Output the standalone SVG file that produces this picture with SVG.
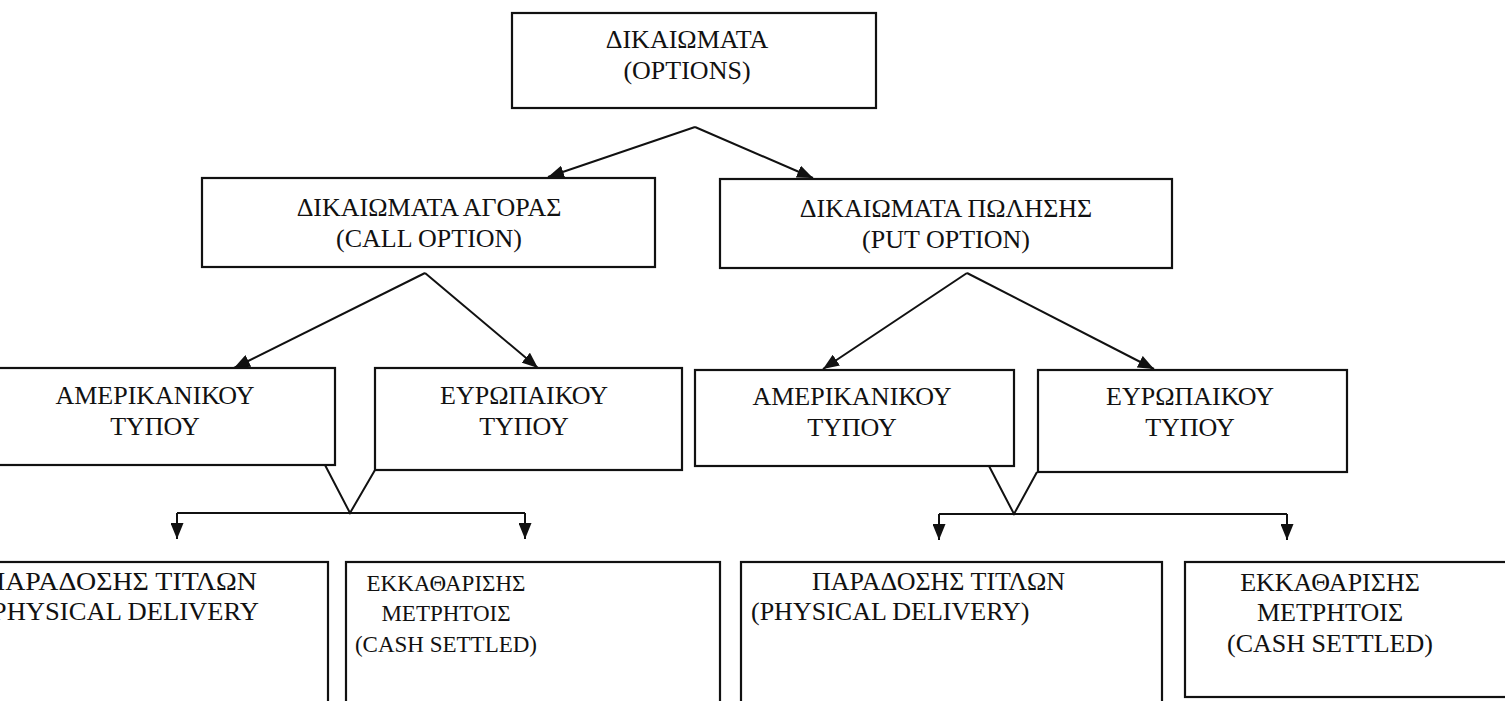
<svg xmlns="http://www.w3.org/2000/svg" width="1505" height="701" viewBox="0 0 1505 701">
<style>
.box{fill:#fff;stroke:#111;stroke-width:2.2}
.t{font-family:"Liberation Serif","Times New Roman",serif;font-size:26px;fill:#111;text-anchor:middle}
.s{text-anchor:start}
.m{font-size:23px}
.c{fill:none;stroke:#111;stroke-width:2}
</style>
<defs>
<marker id="ah" viewBox="0 0 16 13" refX="16" refY="6.5" markerWidth="16" markerHeight="13" markerUnits="userSpaceOnUse" orient="auto">
<path d="M0,0 L16,6.5 L0,13 Z" fill="#111"/>
</marker>
</defs>
<rect width="1505" height="701" fill="#fff"/>
<g id="connectors">
<path class="c" d="M695,127 L548,177" marker-end="url(#ah)"/>
<path class="c" d="M695,127 L813,178" marker-end="url(#ah)"/>
<path class="c" d="M425,273 L234,368" marker-end="url(#ah)"/>
<path class="c" d="M425,273 L538,368" marker-end="url(#ah)"/>
<path class="c" d="M967,273 L823,369" marker-end="url(#ah)"/>
<path class="c" d="M967,273 L1154,369" marker-end="url(#ah)"/>
<path class="c" d="M325,465 L350,513 L375,470"/>
<path class="c" d="M177,513 L525,513"/>
<path class="c" d="M177,513 L177,539" marker-end="url(#ah)"/>
<path class="c" d="M525,513 L525,539" marker-end="url(#ah)"/>
<path class="c" d="M989,466 L1014,514 L1037,472"/>
<path class="c" d="M939,514 L1287,514"/>
<path class="c" d="M939,514 L939,540" marker-end="url(#ah)"/>
<path class="c" d="M1287,514 L1287,540" marker-end="url(#ah)"/>
</g>
<g id="options">
<rect class="box" x="512" y="13" width="364" height="95"/>
<text class="t" x="687" y="48">ΔΙΚΑΙΩΜΑΤΑ</text>
<text class="t" x="687" y="79">(OPTIONS)</text>
</g>
<g id="call">
<rect class="box" x="202" y="178" width="453" height="89"/>
<text class="t" x="429" y="216">ΔΙΚΑΙΩΜΑΤΑ ΑΓΟΡΑΣ</text>
<text class="t" x="429" y="247">(CALL OPTION)</text>
</g>
<g id="put">
<rect class="box" x="720" y="179" width="452" height="89"/>
<text class="t" x="946" y="217">ΔΙΚΑΙΩΜΑΤΑ ΠΩΛΗΣΗΣ</text>
<text class="t" x="946" y="248">(PUT OPTION)</text>
</g>
<g id="call-american">
<rect class="box" x="-25" y="368" width="360" height="97"/>
<text class="t" x="155" y="404">ΑΜΕΡΙΚΑΝΙΚΟΥ</text>
<text class="t" x="155" y="435">ΤΥΠΟΥ</text>
</g>
<g id="call-european">
<rect class="box" x="375" y="368" width="307" height="102"/>
<text class="t" x="524" y="404">ΕΥΡΩΠΑΙΚΟΥ</text>
<text class="t" x="524" y="435">ΤΥΠΟΥ</text>
</g>
<g id="put-american">
<rect class="box" x="695" y="370" width="319" height="96"/>
<text class="t" x="852" y="405">ΑΜΕΡΙΚΑΝΙΚΟΥ</text>
<text class="t" x="852" y="436">ΤΥΠΟΥ</text>
</g>
<g id="put-european">
<rect class="box" x="1038" y="370" width="309" height="102"/>
<text class="t" x="1190" y="405">ΕΥΡΩΠΑΙΚΟΥ</text>
<text class="t" x="1190" y="436">ΤΥΠΟΥ</text>
</g>
<g id="call-physical">
<rect class="box" x="-40" y="562" width="368" height="160"/>
<text class="t s" x="-15" y="590" textLength="272" lengthAdjust="spacingAndGlyphs">ΠΑΡΑΔΟΣΗΣ ΤΙΤΛΩΝ</text>
<text class="t s" x="-17" y="620" textLength="276" lengthAdjust="spacingAndGlyphs">(PHYSICAL DELIVERY</text>
</g>
<g id="call-cash">
<rect class="box" x="346" y="562" width="374" height="160"/>
<text class="t m" x="446" y="591">ΕΚΚΑΘΑΡΙΣΗΣ</text>
<text class="t m" x="446" y="621">ΜΕΤΡΗΤΟΙΣ</text>
<text class="t m" x="446" y="652">(CASH SETTLED)</text>
</g>
<g id="put-physical">
<rect class="box" x="741" y="562" width="421" height="160"/>
<text class="t s" x="812" y="590">ΠΑΡΑΔΟΣΗΣ ΤΙΤΛΩΝ</text>
<text class="t s" x="751" y="620">(PHYSICAL DELIVERY)</text>
</g>
<g id="put-cash">
<rect class="box" x="1185" y="562" width="340" height="135"/>
<text class="t" x="1330" y="591">ΕΚΚΑΘΑΡΙΣΗΣ</text>
<text class="t" x="1330" y="621">ΜΕΤΡΗΤΟΙΣ</text>
<text class="t" x="1330" y="652">(CASH SETTLED)</text>
</g>
</svg>
